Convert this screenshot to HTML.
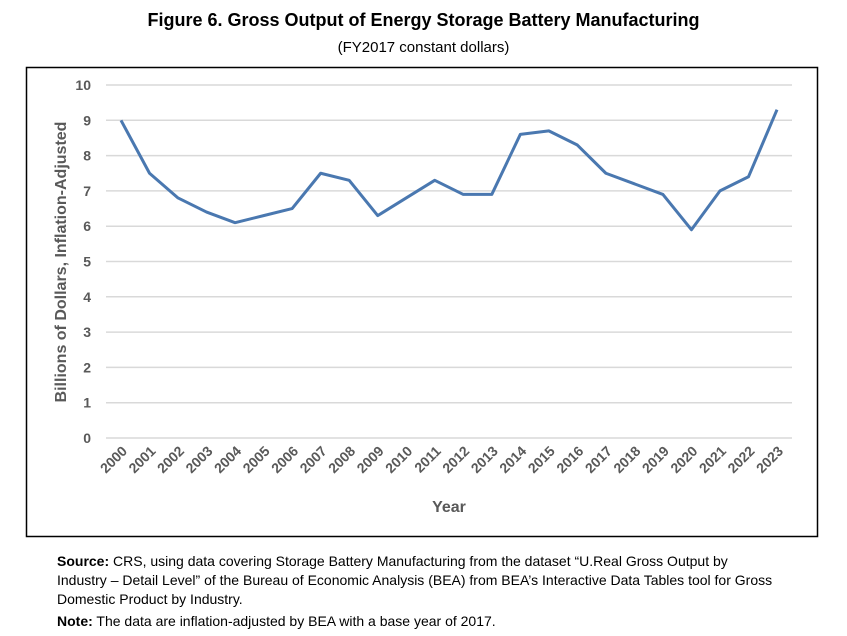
<!DOCTYPE html>
<html><head><meta charset="utf-8">
<style>
body{margin:0;background:#fff;width:847px;height:636px;overflow:hidden;font-family:"Liberation Sans",sans-serif;}
.t{position:absolute;left:0;width:847px;text-align:center;}
</style></head>
<body>
<div class="t" style="top:10px;font-weight:bold;font-size:18px;">Figure 6. Gross Output of Energy Storage Battery Manufacturing</div>
<div class="t" style="top:39px;font-size:15px;">(FY2017 constant dollars)</div>
<svg id="chart" width="847" height="636" style="position:absolute;left:0;top:0" xmlns="http://www.w3.org/2000/svg">
<rect x="26.5" y="67.5" width="791" height="469" fill="none" stroke="#000" stroke-width="1.5"/>
<g id="grid"></g><g id="ylab"></g><g id="xlab"></g>
<path id="line" fill="none" stroke="#4a78b0" stroke-width="3" stroke-linejoin="round"/>
<text transform="translate(66,262) rotate(-90)" text-anchor="middle" font-size="16" font-weight="bold" fill="#595959">Billions of Dollars, Inflation-Adjusted</text>
<text x="449" y="512" text-anchor="middle" font-size="16" font-weight="bold" fill="#595959">Year</text>
</svg>
<div style="position:absolute;left:57px;top:552px;width:722px;font-size:14px;line-height:19px;"><b>Source:</b> CRS, using data covering Storage Battery Manufacturing from the dataset “U.Real Gross Output by Industry – Detail Level” of the Bureau of Economic Analysis (BEA) from BEA’s Interactive Data Tables tool for Gross Domestic Product by Industry.</div>
<div style="position:absolute;left:57px;top:613px;font-size:14px;"><b>Note:</b> The data are inflation-adjusted by BEA with a base year of 2017.</div>
<script>
const years=[2000,2001,2002,2003,2004,2005,2006,2007,2008,2009,2010,2011,2012,2013,2014,2015,2016,2017,2018,2019,2020,2021,2022,2023];
const values=[9.0,7.5,6.8,6.4,6.1,6.3,6.5,7.5,7.3,6.3,6.8,7.3,6.9,6.9,8.6,8.7,8.3,7.5,7.2,6.9,5.9,7.0,7.4,9.3];
const yTicks=[0,1,2,3,4,5,6,7,8,9,10];
const NS="http://www.w3.org/2000/svg";
const x=i=>121+i*(777-121)/(years.length-1);
const y=v=>438-v*(438-85)/10;
const grid=document.getElementById('grid'),yl=document.getElementById('ylab'),xl=document.getElementById('xlab');
yTicks.forEach(t=>{
 const l=document.createElementNS(NS,'line');
 
 
 l.setAttribute('x1',106);l.setAttribute('x2',792);l.setAttribute('y1',y(t));l.setAttribute('y2',y(t));
 l.setAttribute('stroke','#d9d9d9');l.setAttribute('stroke-width','1.5');grid.appendChild(l);
 const tx=document.createElementNS(NS,'text');
 
 
 tx.setAttribute('x',91);tx.setAttribute('y',y(t)+5);tx.setAttribute('text-anchor','end');
 tx.setAttribute('font-size','14');tx.setAttribute('font-weight','bold');tx.setAttribute('fill','#595959');
 tx.textContent=t;yl.appendChild(tx);
});
years.forEach((yr,i)=>{
 const tx=document.createElementNS(NS,'text');
 
 
 tx.setAttribute('transform',`translate(${x(i)+7},${452}) rotate(-45)`);
 tx.setAttribute('text-anchor','end');tx.setAttribute('font-size','14');tx.setAttribute('font-weight','bold');tx.setAttribute('fill','#595959');
 tx.textContent=yr;xl.appendChild(tx);
});
document.getElementById('line').setAttribute('d',values.map((v,i)=>(i?'L':'M')+x(i)+','+y(v)).join(''));
</script>
</body></html>
